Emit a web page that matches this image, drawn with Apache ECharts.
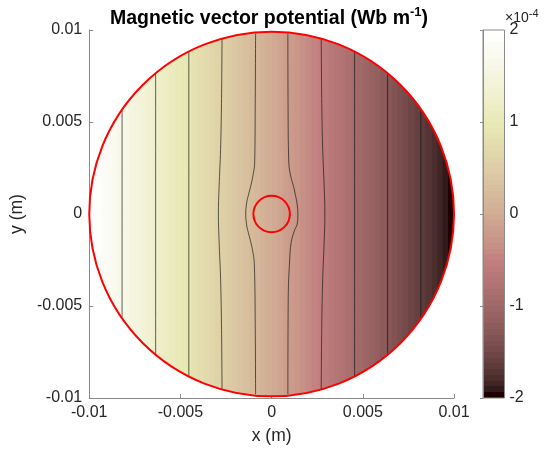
<!doctype html>
<html lang="en">
<head>
    <meta charset="UTF-8">
    <title>Magnetic vector potential</title>
    <script src="https://cdn.jsdelivr.net/npm/echarts@6/dist/echarts.min.js"></script>
    <style>
        html, body { margin: 0; padding: 0; background: #fff; }
        #main { width: 547px; height: 450px; }
    </style>
</head>
<body>
<div id="main"></div>
<script type="text/javascript">
    // potential A (x 1e-4 Wb/m) read across the domain, left to right
    var potentialX = [-0.01, -0.009, -0.008, -0.007, -0.006, -0.005, -0.004, -0.003, -0.002, -0.001, 0,
        0.001, 0.002, 0.003, 0.004, 0.005, 0.006, 0.007, 0.008, 0.009, 0.01];
    var potentialVal = [2.0, 1.8, 1.6, 1.4, 1.2, 1.0, 0.8, 0.6, 0.4, 0.2, 0,
        -0.2, -0.4, -0.6, -0.8, -1.0, -1.2, -1.4, -1.6, -1.8, -2.0];

    // contour lines, [x, y] in m
    var contour1 = [[-0.0082, 0.0056], [-0.0082, -0.0056]];
    var contour2 = [[-0.00636, 0.0076], [-0.00636, -0.0076]];
    var contour3 = [[-0.00454, 0.0088], [-0.00454, -0.0088]];
    var contour4 = [[-0.00272, 0.0095], [-0.00275, 0.006], [-0.0028, 0.0035], [-0.00288, 0.0015], [-0.00292, 0],
        [-0.00288, -0.0015], [-0.0028, -0.0035], [-0.00275, -0.006], [-0.00272, -0.0095]];
    var contour5 = [[-0.00088, 0.0098], [-0.0009, 0.006], [-0.00093, 0.0028], [-0.00104, 0.002], [-0.00115, 0.0015],
        [-0.00128, 0.001], [-0.00137, 0.0006], [-0.00142, 0], [-0.00137, -0.0006], [-0.00128, -0.001],
        [-0.00115, -0.0015], [-0.00104, -0.002], [-0.00095, -0.0027], [-0.0009, -0.006], [-0.00088, -0.0098]];
    var contour6 = [[0.00089, 0.0098], [0.0009, 0.006], [0.00094, 0.0028], [0.00106, 0.002], [0.0012, 0.0015],
        [0.00131, 0.001], [0.00139, 0.0006], [0.00144, 0], [0.00139, -0.0006], [0.00127, -0.00084],
        [0.00107, -0.00156], [0.00099, -0.0025], [0.00091, -0.0045], [0.00089, -0.0098]];
    var contour7 = [[0.00272, 0.0095], [0.00275, 0.006], [0.0028, 0.0035], [0.00288, 0.0015], [0.00292, 0],
        [0.00288, -0.0015], [0.0028, -0.0035], [0.00275, -0.006], [0.00272, -0.0095]];
    var contour8 = [[0.00455, 0.0088], [0.00455, -0.0088]];
    var contour9 = [[0.00636, 0.0076], [0.00636, -0.0076]];
    var contour10 = [[0.00818, 0.0056], [0.00818, -0.0056]];
    var contours = [contour1, contour2, contour3, contour4, contour5, contour6, contour7, contour8, contour9, contour10];

    // geometry
    var domainRadius = 0.01;
    var holeRadius = 0.001;

    // tick labels
    var xTickLabels = ['-0.01', '-0.005', '0', '0.005', '0.01'];
    var yTickLabels = ['-0.01', '-0.005', '0', '0.005', '0.01'];
    var cbTickLabels = ['-2', '-1', '0', '1', '2'];
    var axisMin = -0.01, axisMax = 0.01, axisStep = 0.005;
    var cbMin = -2, cbMax = 2, cbStep = 1;

    var fontName = 'Liberation Sans';
    var txtColor = '#262626';
    var axColor = '#8a8a8a';

    // MATLAB pink colormap, 64 entries
    var pinkMap = (function () {
        var n = 64, n1 = Math.floor(3 / 8 * n), out = [];
        for (var i = 0; i < n; i++) {
            var k = i + 1;
            var hr = k <= n1 ? k / n1 : 1;
            var hg = k <= n1 ? 0 : (k <= 2 * n1 ? (k - n1) / n1 : 1);
            var hb = k <= 2 * n1 ? 0 : (k - 2 * n1) / (n - 2 * n1);
            var g = i / (n - 1);
            var r = Math.sqrt((2 * g + hr) / 3);
            var gg = Math.sqrt((2 * g + hg) / 3);
            var b = Math.sqrt((2 * g + hb) / 3);
            out.push('rgb(' + Math.round(r * 255) + ',' + Math.round(gg * 255) + ',' + Math.round(b * 255) + ')');
        }
        return out;
    })();

    var pinkColor = function (v) {
        var idx = Math.floor((v - cbMin) / (cbMax - cbMin) * pinkMap.length);
        if (idx < 0) idx = 0;
        if (idx > pinkMap.length - 1) idx = pinkMap.length - 1;
        return pinkMap[idx];
    };

    // potential at x from the read samples
    var potentialAt = function (x) {
        for (var i = 0; i < potentialX.length - 1; i++) {
            if (x <= potentialX[i + 1]) {
                var f = (x - potentialX[i]) / (potentialX[i + 1] - potentialX[i]);
                return potentialVal[i] + f * (potentialVal[i + 1] - potentialVal[i]);
            }
        }
        return potentialVal[potentialVal.length - 1];
    };

    //filled field inside the domain
    var renderField = function (params, api) {
        var c = api.coord([0, 0]);
        var r = api.size([domainRadius, 0])[0];
        var xa = potentialX[0], xb = potentialX[potentialX.length - 1];
        var pa = api.coord([xa, 0])[0], pb = api.coord([xb, 0])[0];
        var stops = [], N = 400;
        for (var k = 0; k <= N; k++) {
            stops.push({ offset: k / N, color: pinkColor(potentialAt(xa + (xb - xa) * k / N)) });
        }
        return {
            type: 'circle',
            shape: { cx: c[0], cy: c[1], r: r },
            style: { fill: new echarts.graphic.LinearGradient(pa, 0, pb, 0, stops, true) }
        };
    };

    //red boundaries
    var renderBoundary = function (params, api) {
        var c = api.coord([api.value(0), api.value(1)]);
        var r = api.size([api.value(2), 0])[0];
        return {
            type: 'circle',
            shape: { cx: c[0], cy: c[1], r: r },
            style: { fill: 'none', stroke: '#ff0000', lineWidth: 2 }
        };
    };

    //colorbar with 64 bands
    var renderColorbar = function (params, api) {
        var p0 = api.coord([0, cbMax]);
        var p1 = api.coord([1, cbMin]);
        var stops = [];
        for (var k = 0; k < pinkMap.length; k++) {
            stops.push({ offset: k / pinkMap.length, color: pinkMap[k] });
            stops.push({ offset: (k + 1) / pinkMap.length, color: pinkMap[k] });
        }
        return {
            type: 'rect',
            shape: { x: p0[0], y: p0[1], width: p1[0] - p0[0], height: p1[1] - p0[1] },
            style: {
                fill: new echarts.graphic.LinearGradient(0, p1[1], 0, p0[1], stops, true),
                stroke: axColor, lineWidth: 1
            }
        };
    };

    var labelFrom = function (list, min, step) {
        return function (v) { return list[Math.round((v - min) / step)]; };
    };

    var series = [];
    series.push({
        type: 'custom', name: 'field', xAxisIndex: 0, yAxisIndex: 0, z: 1,
        renderItem: renderField, data: [[0, 0]], silent: true
    });
    contours.forEach(function (item, index) {
        series.push({
            type: 'line', name: 'contour' + (index + 1), xAxisIndex: 0, yAxisIndex: 0, z: 2,
            data: item, smooth: 0.4, showSymbol: false, symbol: 'none', silent: true,
            lineStyle: { color: 'rgba(20,20,20,0.75)', width: 0.9 }
        });
    });
    series.push({
        type: 'custom', name: 'boundary', xAxisIndex: 0, yAxisIndex: 0, z: 3,
        renderItem: renderBoundary, data: [[0, 0, domainRadius], [0, 0, holeRadius]], silent: true
    });
    series.push({
        type: 'custom', name: 'colorbar', xAxisIndex: 1, yAxisIndex: 1, z: 1,
        renderItem: renderColorbar, data: [[0, 0]], silent: true
    });

    var myChart = echarts.init(document.getElementById('main'), null, { renderer: 'canvas' });
    var option = {
        backgroundColor: '#ffffff',
        animation: false,
        textStyle: { fontFamily: fontName },
        grid: [
            { left: 85, top: 30, width: 369, height: 368 },
            { left: 483, top: 30, width: 21.5, height: 368 }
        ],
        xAxis: [{
            gridIndex: 0, type: 'value', min: axisMin, max: axisMax, interval: axisStep,
            name: 'x (m)', nameLocation: 'middle', nameGap: 29,
            nameTextStyle: { fontSize: 17.5, color: txtColor, fontFamily: fontName },
            axisLine: { show: true, onZero: false, lineStyle: { color: axColor, width: 1 } },
            axisTick: { show: true, inside: true, length: 4, lineStyle: { color: axColor } },
            axisLabel: { fontSize: 16, color: txtColor, margin: 7, fontFamily: fontName,
                formatter: labelFrom(xTickLabels, axisMin, axisStep) },
            splitLine: { show: false }
        }, {
            gridIndex: 1, type: 'value', min: 0, max: 1, show: false
        }],
        yAxis: [{
            gridIndex: 0, type: 'value', min: axisMin, max: axisMax, interval: axisStep,
            name: 'y (m)', nameLocation: 'middle', nameGap: 56,
            nameTextStyle: { fontSize: 17.5, color: txtColor, fontFamily: fontName },
            axisLine: { show: true, onZero: false, lineStyle: { color: axColor, width: 1 } },
            axisTick: { show: true, inside: true, length: 4, lineStyle: { color: axColor } },
            axisLabel: { fontSize: 16, color: txtColor, margin: 7, fontFamily: fontName,
                formatter: labelFrom(yTickLabels, axisMin, axisStep) },
            splitLine: { show: false }
        }, {
            gridIndex: 1, type: 'value', min: cbMin, max: cbMax, interval: cbStep, position: 'right', z: 5,
            axisLine: { show: true, lineStyle: { color: axColor, width: 1 } },
            axisTick: { show: true, inside: true, length: 3, lineStyle: { color: axColor } },
            axisLabel: { fontSize: 16, color: txtColor, margin: 5, fontFamily: fontName,
                formatter: labelFrom(cbTickLabels, cbMin, cbStep) },
            splitLine: { show: false }
        }],
        graphic: [{
            type: 'text', x: 269, y: 18.5, z: 10,
            style: {
                text: 'Magnetic vector potential (Wb m{s|-1})',
                textAlign: 'center', textVerticalAlign: 'middle',
                fontSize: 19.5, fontWeight: 'bold', fontFamily: fontName, fill: '#000',
                lineHeight: 26,
                rich: { s: { fontSize: 13, fontWeight: 'bold', fontFamily: fontName, verticalAlign: 'top', lineHeight: 13, fill: '#000' } }
            }
        }, {
            type: 'text', x: 505, y: 18, z: 10,
            style: {
                text: '{b|×10}{s|-4}',
                textAlign: 'left', textVerticalAlign: 'middle',
                fill: txtColor,
                rich: {
                    b: { fontSize: 14, fontFamily: fontName, lineHeight: 20, verticalAlign: 'middle', fill: txtColor },
                    s: { fontSize: 11, fontFamily: fontName, lineHeight: 14, verticalAlign: 'top', fill: txtColor }
                }
            }
        }],
        series: series
    };
    myChart.setOption(option);
</script>
</body>
</html>
